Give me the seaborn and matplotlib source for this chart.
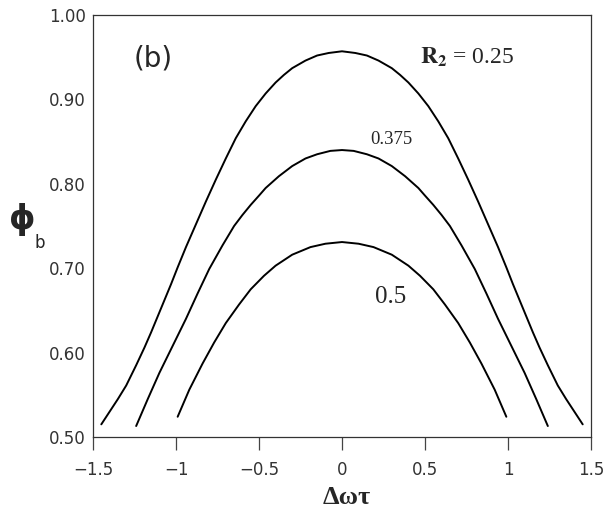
import numpy as np
import pandas as pd
import matplotlib
matplotlib.use("Agg")
import matplotlib.pyplot as plt
import seaborn as sns

# ---- datos ----
x_025 = [-1.45, -1.40, -1.35, -1.30, -1.27, -1.24, -1.19, -1.15, -1.11, -1.07, -1.03, -0.99,
         -0.94, -0.88, -0.82, -0.76, -0.70, -0.64, -0.58, -0.52, -0.46, -0.40, -0.35, -0.30,
         -0.22, -0.15, -0.08, 0.0,
         0.08, 0.15, 0.22, 0.30, 0.35, 0.40, 0.46, 0.52, 0.58, 0.64, 0.70, 0.76,
         0.82, 0.88, 0.94, 0.99, 1.03, 1.07, 1.11, 1.15, 1.19, 1.24, 1.27, 1.30,
         1.35, 1.40, 1.45]
y_025 = [0.515, 0.530, 0.545, 0.561, 0.573, 0.585, 0.606, 0.624, 0.643, 0.662, 0.681, 0.701,
         0.725, 0.752, 0.779, 0.805, 0.830, 0.854, 0.874, 0.892, 0.907, 0.920, 0.929, 0.937,
         0.946, 0.952, 0.955, 0.957,
         0.955, 0.952, 0.946, 0.937, 0.929, 0.920, 0.907, 0.892, 0.874, 0.854, 0.830, 0.805,
         0.779, 0.752, 0.725, 0.701, 0.681, 0.662, 0.643, 0.624, 0.606, 0.585, 0.573, 0.561,
         0.545, 0.530, 0.515]

x_0375 = [-1.24, -1.17, -1.10, -1.02, -0.94, -0.87, -0.80, -0.72, -0.65, -0.60, -0.55, -0.50,
          -0.46, -0.38, -0.30, -0.22, -0.15, -0.07, 0.0,
          0.07, 0.15, 0.22, 0.30, 0.38, 0.46, 0.50, 0.55, 0.60, 0.65, 0.72, 0.80,
          0.87, 0.94, 1.02, 1.10, 1.17, 1.24]
y_0375 = [0.513, 0.545, 0.576, 0.608, 0.640, 0.670, 0.699, 0.727, 0.750, 0.763, 0.775, 0.786,
          0.795, 0.809, 0.821, 0.830, 0.835, 0.839, 0.840,
          0.839, 0.835, 0.830, 0.821, 0.809, 0.795, 0.786, 0.775, 0.763, 0.750, 0.727, 0.699,
          0.670, 0.640, 0.608, 0.576, 0.545, 0.513]

x_05 = [-0.99, -0.92, -0.84, -0.77, -0.70, -0.62, -0.55, -0.47, -0.40, -0.30, -0.19, -0.10, 0.0,
        0.10, 0.19, 0.30, 0.40, 0.47, 0.55, 0.62, 0.70, 0.77, 0.84, 0.92, 0.99]
y_05 = [0.524, 0.556, 0.587, 0.612, 0.635, 0.657, 0.675, 0.691, 0.703, 0.716, 0.725, 0.729, 0.731,
        0.729, 0.725, 0.716, 0.703, 0.691, 0.675, 0.657, 0.635, 0.612, 0.587, 0.556, 0.524]

xticks = [-1.5, -1, -0.5, 0, 0.5, 1, 1.5]
xtick_labels = ["\u22121.5", "\u22121", "\u22120.5", "0", "0.5", "1", "1.5"]
yticks = [0.50, 0.60, 0.70, 0.80, 0.90, 1.00]
ytick_labels = ["0.50", "0.60", "0.70", "0.80", "0.90", "1.00"]

df = pd.concat([
    pd.DataFrame({"x": x_025, "y": y_025, "R2": "0.25"}),
    pd.DataFrame({"x": x_0375, "y": y_0375, "R2": "0.375"}),
    pd.DataFrame({"x": x_05, "y": y_05, "R2": "0.5"}),
])

sns.set_style("ticks")
plt.rcParams['font.family'] = ['DejaVu Sans']
plt.rcParams['mathtext.fontset'] = 'stix'

fig = plt.figure(figsize=(6.03, 5.14), dpi=100)
ax = fig.add_axes([93/603, 1-437/514, 498/603, 422/514])

sns.lineplot(data=df, x="x", y="y", hue="R2", units="R2", estimator=None, sort=False,
             palette=["black", "black", "black"], linewidth=1.4, legend=False, ax=ax)

ax.set_xlim(-1.5, 1.5)
ax.set_ylim(0.5, 1.0)
ax.set_xticks(xticks)
ax.set_xticklabels(xtick_labels)
ax.set_yticks(yticks)
ax.set_yticklabels(ytick_labels)
ax.tick_params(axis="x", direction="out", length=9, width=0.9, color="#444444",
               labelsize=12, labelcolor="#333333", pad=8)
ax.tick_params(axis="y", direction="out", length=0, labelsize=12, labelcolor="#333333", pad=5)
for s in ax.spines.values():
    s.set_visible(True)
    s.set_color("#333333")
    s.set_linewidth(0.9)

ax.set_xlabel("")
ax.set_ylabel("")

# etiquetas de texto
ax.text(-1.139, 0.948, "(b)", fontsize=20, ha="center", va="center", family="DejaVu Sans")
ax.text(0.47, 0.950, r"$\mathbf{R_2}$ = 0.25", fontsize=17, ha="left", va="center",
        family="Liberation Serif")
ax.text(0.30, 0.852, "0.375", fontsize=13.5, ha="center", va="center", family="Liberation Serif")
ax.text(0.29, 0.666, "0.5", fontsize=18, ha="center", va="center", family="Liberation Serif")

fig.text(347/603, 1-498/514, "\u0394\u03c9\u03c4", fontsize=19, fontweight="bold",
         ha="center", va="center", family="Liberation Serif")
fig.text(22/603, 1-220/514, "\u03d5", fontsize=24, fontweight="bold",
         ha="center", va="center", family="DejaVu Sans")
fig.text(40/603, 1-243/514, "b", fontsize=12, ha="center", va="center", family="DejaVu Sans")

fig.savefig("out.png", dpi=100)
